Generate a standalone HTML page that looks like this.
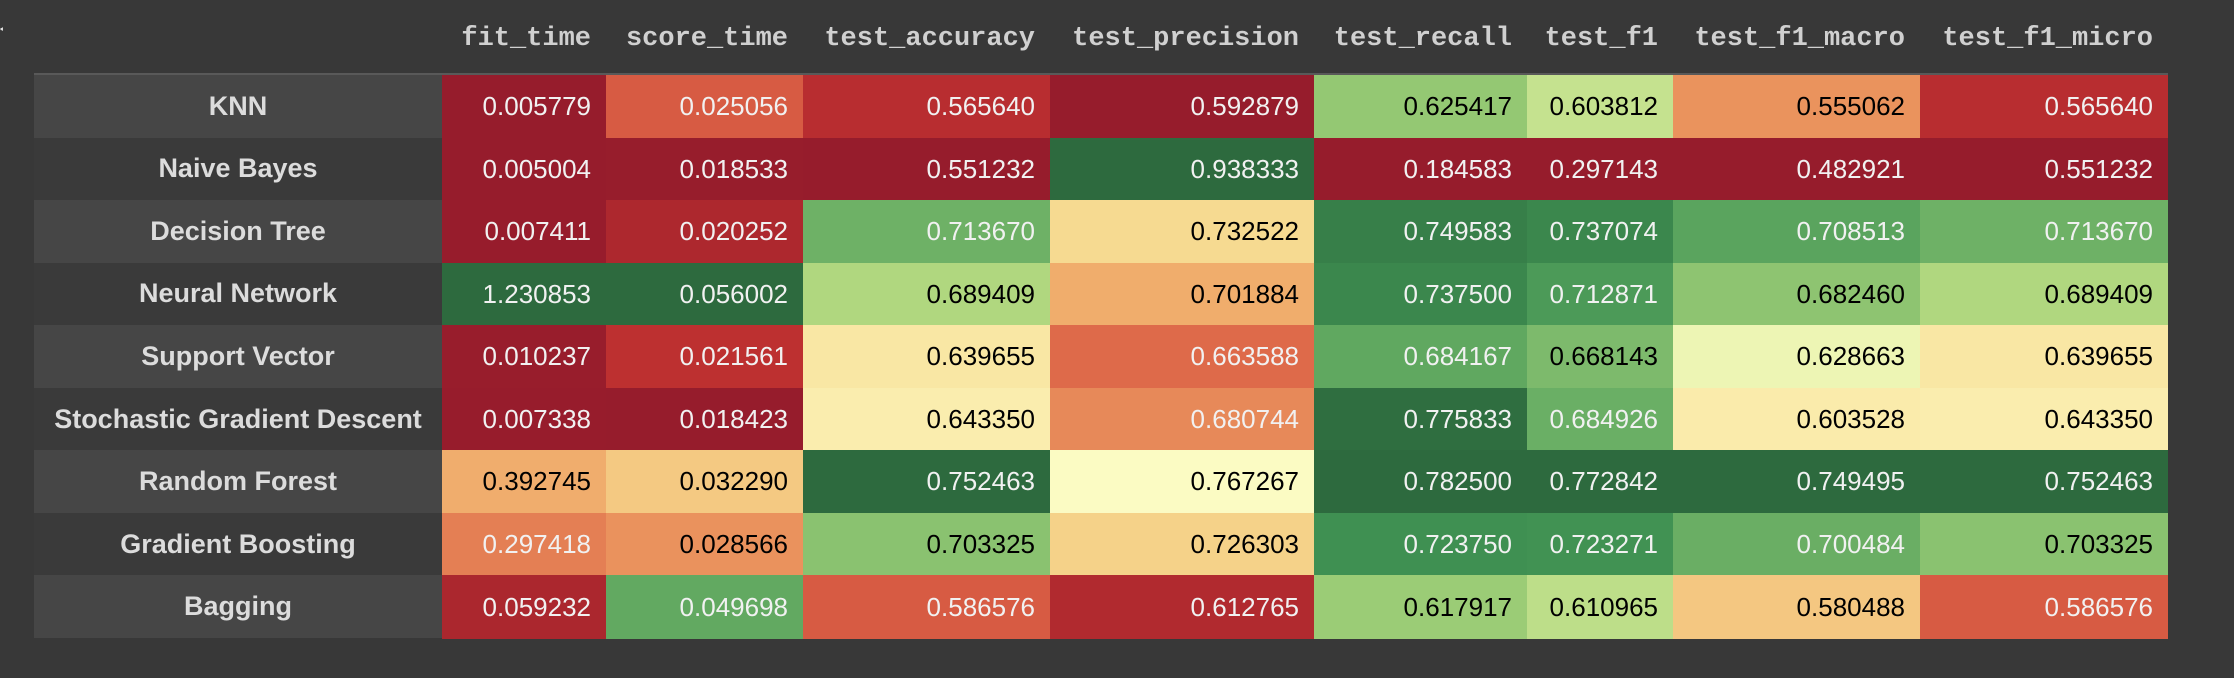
<!DOCTYPE html>
<html><head><meta charset="utf-8">
<style>
html,body{margin:0;padding:0;background:#383838;width:2234px;height:678px;overflow:hidden}
#root{position:relative;width:2234px;height:678px;font-family:"Liberation Sans",Arial,sans-serif}
.h{position:absolute;top:14px;height:50px;line-height:50px;text-align:right;font-family:"Liberation Mono",monospace;font-weight:bold;font-size:27px;color:#d0d0d0;box-sizing:border-box;padding-right:15px}
.c{position:absolute;box-sizing:border-box;text-align:right;padding-right:15px;font-size:26px;display:flex;align-items:center;justify-content:flex-end}
.ix{position:absolute;box-sizing:border-box;text-align:center;font-weight:bold;font-size:27px;color:#dcdcdc;display:flex;align-items:center;justify-content:center}
</style></head>
<body>
<div id="root">
<div style="position:absolute;left:0;top:10px;width:3px;height:36px;color:#ddd;font-size:30px;overflow:hidden;line-height:36px">{</div>
<div style="position:absolute;left:34px;top:73px;width:2134px;height:2px;background:#595959"></div>
</div>
<script>
const models = ["KNN","Naive Bayes","Decision Tree","Neural Network","Support Vector","Stochastic Gradient Descent","Random Forest","Gradient Boosting","Bagging"];
const columns = ["fit_time","score_time","test_accuracy","test_precision","test_recall","test_f1","test_f1_macro","test_f1_micro"];
const fitTime = [0.005779,0.005004,0.007411,1.230853,0.010237,0.007338,0.392745,0.297418,0.059232];
const scoreTime = [0.025056,0.018533,0.020252,0.056002,0.021561,0.018423,0.032290,0.028566,0.049698];
const testAccuracy = [0.565640,0.551232,0.713670,0.689409,0.639655,0.643350,0.752463,0.703325,0.586576];
const testPrecision = [0.592879,0.938333,0.732522,0.701884,0.663588,0.680744,0.767267,0.726303,0.612765];
const testRecall = [0.625417,0.184583,0.749583,0.737500,0.684167,0.775833,0.782500,0.723750,0.617917];
const testF1 = [0.603812,0.297143,0.737074,0.712871,0.668143,0.684926,0.772842,0.723271,0.610965];
const testF1Macro = [0.555062,0.482921,0.708513,0.682460,0.628663,0.603528,0.749495,0.700484,0.580488];
const testF1Micro = [0.565640,0.551232,0.713670,0.689409,0.639655,0.643350,0.752463,0.703325,0.586576];
const series = [fitTime,scoreTime,testAccuracy,testPrecision,testRecall,testF1,testF1Macro,testF1Micro];

const colEdges = [34,442,606,803,1050,1314,1527,1673,1920,2168];
const top0 = 75, rowH = 62.56;
const stops = ['#961c2c','#c53431','#dd6749','#efa566','#f6d98f','#fdfcc5','#dbeda0','#a9d47a','#72b468','#3f9152','#2d6a3e'];
const rdylgn = ['#a50026','#d73027','#f46d43','#fdae61','#fee08b','#ffffbf','#d9ef8b','#a6d96a','#66bd63','#1a9850','#006837'];
function hex(h){return [1,3,5].map(i=>parseInt(h.substr(i,2),16));}
function interp(st,t){t=Math.max(0,Math.min(1,t));const p=t*10;const i=Math.min(9,Math.floor(p));const f=p-i;const a=hex(st[i]),b=hex(st[i+1]);return a.map((v,k)=>Math.round(v+(b[k]-v)*f));}
function lum(c){const l=c.map(v=>{v/=255;return v<=0.03928?v/12.92:Math.pow((v+0.055)/1.055,2.4)});return 0.2126*l[0]+0.7152*l[1]+0.0722*l[2];}
const root=document.getElementById('root');
columns.forEach((name,j)=>{
  const h=document.createElement('div');
  h.className='h';
  
  
  h.style.left=colEdges[j+1]+'px';h.style.width=(colEdges[j+2]-colEdges[j+1])+'px';
  h.textContent=name;root.appendChild(h);
});
models.forEach((m,i)=>{
  const y=top0+i*rowH;
  const ix=document.createElement('div');
  ix.className='ix';
  
  
  ix.style.left=colEdges[0]+'px';ix.style.width=(colEdges[1]-colEdges[0])+'px';
  ix.style.top=y+'px';ix.style.height=rowH+'px';
  ix.style.background=(i%2===0)?'#464646':'#3a3a3a';
  ix.textContent=m;root.appendChild(ix);
  series.forEach((arr,j)=>{
    const mn=Math.min(...arr),mx=Math.max(...arr);
    const t=(arr[i]-mn)/(mx-mn);
    const col=interp(stops,t);
    const ref=interp(rdylgn,t);
    const c=document.createElement('div');
    c.className='c';
    
    
    c.style.left=colEdges[j+1]+'px';c.style.width=(colEdges[j+2]-colEdges[j+1])+'px';
    c.style.top=y+'px';c.style.height=(rowH+0.6)+'px';
    c.style.background='rgb('+col.join(',')+')';
    c.style.color=lum(ref)<0.408?'#f1f1f1':'#000';
    c.textContent=arr[i].toFixed(6);root.appendChild(c);
  });
});
</script>
</body></html>
